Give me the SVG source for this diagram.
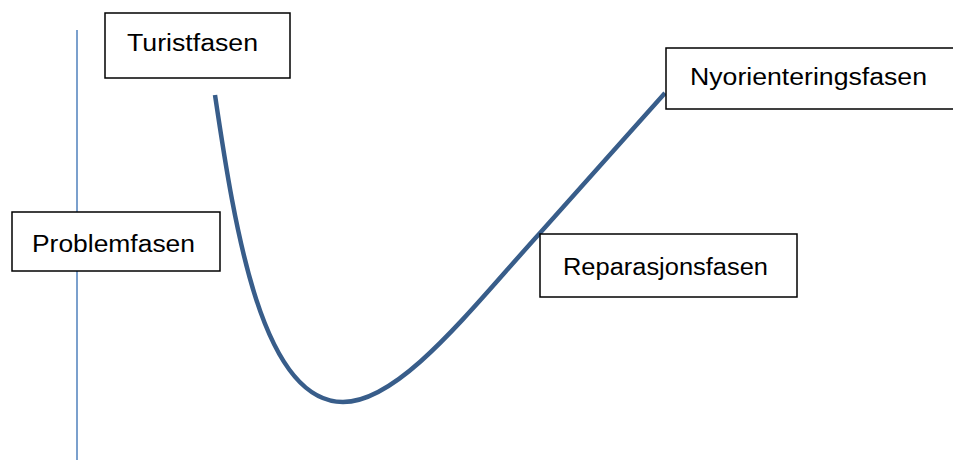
<svg xmlns="http://www.w3.org/2000/svg" width="953" height="460" viewBox="0 0 953 460">
<style>
.box{fill:#fff;stroke:#000;stroke-width:1.5}
.lbl{font-family:"Liberation Sans",Arial,sans-serif;font-size:23px;fill:#000}
</style>
<rect width="953" height="460" fill="#fff"/>
<g id="connectors">
<line x1="77" y1="30" x2="77" y2="460" stroke="#4f81bd" stroke-width="1.5"/>
<path d="M215,95 C235,230 262,402 343,402 C400,402 470,310 540,233 L665,93" fill="none" stroke="#385d8a" stroke-width="4.5"/>
</g>
<g id="turistfasen"><rect class="box" x="105" y="13" width="185" height="65"/><text class="lbl" x="127" y="51" textLength="131" lengthAdjust="spacingAndGlyphs">Turistfasen</text></g>
<g id="problemfasen"><rect class="box" x="12" y="212" width="208" height="59"/><text class="lbl" x="32" y="252" textLength="163" lengthAdjust="spacingAndGlyphs">Problemfasen</text></g>
<g id="reparasjonsfasen"><rect class="box" x="540" y="234" width="257" height="63"/><text class="lbl" x="563" y="275" textLength="205" lengthAdjust="spacingAndGlyphs">Reparasjonsfasen</text></g>
<g id="nyorienteringsfasen"><rect class="box" x="666" y="48" width="290" height="61"/><text class="lbl" x="690" y="85" textLength="237" lengthAdjust="spacingAndGlyphs">Nyorienteringsfasen</text></g>
</svg>
